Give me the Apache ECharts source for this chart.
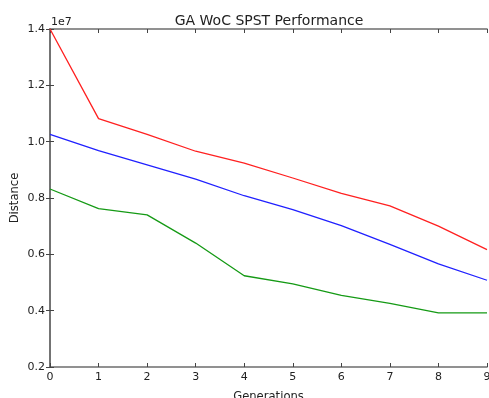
<!DOCTYPE html>
<html>
<head>
<meta charset="utf-8">
<script src="https://cdn.jsdelivr.net/npm/echarts@6/dist/echarts.min.js"></script>
<style>
html,body{margin:0;padding:0;background:#fff;}
#chart{width:489px;height:398px;}
</style>
</head>
<body>
<div id="chart"></div>
<script>
var generations = [0, 1, 2, 3, 4, 5, 6, 7, 8, 9];
var redSeries = [1.400e7, 1.082e7, 1.026e7, 0.966e7, 0.924e7, 0.871e7, 0.816e7, 0.772e7, 0.700e7, 0.617e7];
var blueSeries = [1.026e7, 0.968e7, 0.918e7, 0.867e7, 0.808e7, 0.759e7, 0.702e7, 0.635e7, 0.566e7, 0.508e7];
var greenSeries = [0.832e7, 0.762e7, 0.740e7, 0.640e7, 0.524e7, 0.495e7, 0.454e7, 0.426e7, 0.392e7, 0.392e7];
var yTicks = [0.2e7, 0.4e7, 0.6e7, 0.8e7, 1.0e7, 1.2e7, 1.4e7];

function pairs(vals) { return generations.map(function (g, i) { return [g, vals[i]]; }); }

var font = 'DejaVu Sans';
var spine = { show: true, lineStyle: { color: '#6e6e6e', width: 1.6 } };
var tickIn = { show: true, inside: true, length: 4, lineStyle: { color: '#444', width: 1 } };

var chart = echarts.init(document.getElementById('chart'), null, { renderer: 'canvas' });
chart.setOption({
  animation: false,
  backgroundColor: '#ffffff',
  title: {
    text: 'GA WoC SPST Performance',
    left: 264, top: 9, textAlign: 'center',
    textStyle: { fontFamily: font, fontSize: 14, fontWeight: 'normal', color: '#222' }
  },
  graphic: [{
    type: 'text', left: 51, top: 17,
    style: { text: '1e7', font: '11px "DejaVu Sans"', fill: '#222' }
  }],
  grid: { left: 50, right: 2, top: 29, bottom: 31, containLabel: false, outerBoundsMode: 'none' },
  xAxis: [{
    type: 'value', min: 0, max: 9, interval: 1, position: 'bottom',
    name: 'Generations', nameLocation: 'middle', nameGap: 24, nameMoveOverlap: false,
    nameTextStyle: { fontFamily: font, fontSize: 11.6, color: '#222' },
    axisLine: spine, axisTick: tickIn, splitLine: { show: false },
    axisLabel: { fontFamily: font, fontSize: 11, color: '#222', margin: 5 }
  }, {
    type: 'value', min: 0, max: 9, interval: 1, position: 'top',
    axisLine: spine, axisTick: tickIn, splitLine: { show: false },
    axisLabel: { show: false }
  }],
  yAxis: [{
    type: 'value', min: yTicks[0], max: yTicks[yTicks.length - 1], interval: 0.2e7, position: 'left',
    name: 'Distance', nameLocation: 'middle', nameGap: 29, nameMoveOverlap: false,
    nameTextStyle: { fontFamily: font, fontSize: 11.6, color: '#222' },
    axisLine: spine, axisTick: tickIn, splitLine: { show: false },
    axisLabel: { fontFamily: font, fontSize: 11, color: '#222', margin: 5,
      formatter: function (v) { return (v / 1e7).toFixed(1); } }
  }, {
    type: 'value', min: yTicks[0], max: yTicks[yTicks.length - 1], interval: 0.2e7, position: 'right',
    axisLine: spine, axisTick: tickIn, splitLine: { show: false },
    axisLabel: { show: false }
  }],
  series: [
    { type: 'line', data: pairs(redSeries), showSymbol: false, lineStyle: { color: '#ff2020', width: 1.3 }, itemStyle: { color: '#ff0000' } },
    { type: 'line', data: pairs(blueSeries), showSymbol: false, lineStyle: { color: '#2020ff', width: 1.3 }, itemStyle: { color: '#0000ff' } },
    { type: 'line', data: pairs(greenSeries), showSymbol: false, lineStyle: { color: '#159a15', width: 1.3 }, itemStyle: { color: '#008000' } }
  ]
});
</script>
</body>
</html>
